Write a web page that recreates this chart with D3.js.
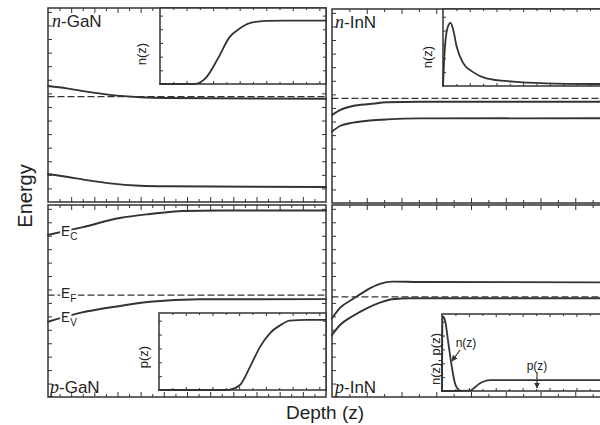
<!DOCTYPE html>
<html><head><meta charset="utf-8">
<script src="https://cdn.jsdelivr.net/npm/d3@7"></script>
<style>
body{margin:0;background:#fff}
svg{display:block}
text{font-family:"Liberation Sans",Arial,Helvetica,sans-serif;fill:#222}
</style>
</head><body>
<svg id="c" width="600" height="425"></svg>
<script>
// ---------- DATA ----------
// Band edges: depth in arbitrary units, energy in arbitrary units (0..10)
const nGaNDepth = [0, 0.8, 1.67, 2.68, 3.97, 5.12, 12];
const nGaN_Ec   = [5.98, 5.86, 5.69, 5.52, 5.40, 5.36, 5.32];
const nGaN_Ev   = [1.44, 1.30, 1.13, 0.96, 0.84, 0.81, 0.77];
const nGaN_Ef   = 5.43;

const nInNDepth = [0, 0.23, 0.6, 1.09, 1.58, 2.53, 8];
const nInN_Ec   = [4.54, 4.79, 5.00, 5.10, 5.19, 5.22, 5.22];
const nInN_Ev   = [3.68, 3.97, 4.14, 4.25, 4.31, 4.36, 4.37];
const nInN_Ef   = 5.39;

const pGaNDepthC = [0, 1.51, 3.1, 4.4, 5.83, 7.42, 12];
const pGaN_Ec    = [8.44, 8.85, 9.32, 9.53, 9.69, 9.71, 9.71];
const pGaNDepthV = [0, 1.38, 3.1, 4.4, 6.56, 12];
const pGaN_Ev    = [3.92, 4.38, 4.74, 4.96, 5.09, 5.10];
const pGaN_Ef    = 5.31;

const pInNDepthC = [0, 0.23, 0.6, 1.0, 1.38, 1.73, 2.53, 8];
const pInN_Ec    = [4.10, 4.64, 5.10, 5.57, 5.89, 6.01, 5.99, 5.97];
const pInNDepthV = [0, 0.23, 0.6, 1.0, 1.38, 1.73, 2.24, 8];
const pInN_Ev    = [3.23, 3.75, 4.22, 4.62, 4.91, 5.09, 5.14, 5.14];
const pInN_Ef    = 5.22;

// Inset carrier profiles (normalized depth 0..1, normalized density 0..1)
const nGaNInsetZ = [0, 0.20, 0.23, 0.28, 0.35, 0.42, 0.48, 0.54, 0.64, 0.75, 1];
const nGaNInsetN = [0, 0, 0.01, 0.09, 0.34, 0.62, 0.73, 0.80, 0.83, 0.835, 0.835];

const nInNInsetZ = [0, 0.006, 0.018, 0.035, 0.045, 0.06, 0.082, 0.12, 0.18, 0.26, 0.42, 0.62, 0.92, 1];
const nInNInsetN = [0, 0.30, 0.65, 0.80, 0.82, 0.74, 0.51, 0.30, 0.18, 0.10, 0.056, 0.035, 0.026, 0.025];

const pGaNInsetZ = [0, 0.40, 0.425, 0.485, 0.545, 0.605, 0.665, 0.725, 0.784, 0.88, 1];
const pGaNInsetP = [0, 0, 0.005, 0.065, 0.30, 0.56, 0.74, 0.84, 0.90, 0.91, 0.91];

const pInNInsetZn = [0, 0.003, 0.008, 0.018, 0.038, 0.058, 0.077, 0.097, 0.11];
const pInNInsetN  = [0, 0.97, 0.965, 0.92, 0.62, 0.32, 0.10, 0.02, 0];
const pInNInsetZp = [0, 0.167, 0.196, 0.226, 0.256, 0.286, 0.35, 1];
const pInNInsetP  = [0, 0.005, 0.048, 0.10, 0.13, 0.14, 0.14, 0.14];

// ---------- DRAWING ----------
const svg = d3.select("#c");
const INK = "#333";
const zip = (xs, ys) => xs.map((v, i) => [v, ys[i]]);

function ticks(g, x, y, xMajor, xMinor, yVals, maj, min) {
  const [x0, x1] = x.range(), [y1, y0] = y.range();
  const add = (axis, tr) => {
    const a = g.append("g").attr("transform", tr).call(axis.tickFormat("").tickSizeOuter(0));
    a.select(".domain").remove();
    a.selectAll("line").attr("stroke", INK).attr("stroke-width", 1);
  };
  add(d3.axisTop(x).tickValues(xMajor).tickSize(maj), `translate(0,${y1})`);
  add(d3.axisTop(x).tickValues(xMinor).tickSize(min), `translate(0,${y1})`);
  add(d3.axisBottom(x).tickValues(xMajor).tickSize(maj), `translate(0,${y0})`);
  add(d3.axisBottom(x).tickValues(xMinor).tickSize(min), `translate(0,${y0})`);
  add(d3.axisRight(y).tickValues(yVals).tickSize(min + 1), `translate(${x0},0)`);
  add(d3.axisLeft(y).tickValues(yVals).tickSize(min + 1), `translate(${x1},0)`);
}

function frame(g, x, y, w) {
  const [x0, x1] = x.range(), [y1, y0] = y.range();
  g.append("rect").attr("x", x0).attr("y", y0).attr("width", x1 - x0).attr("height", y1 - y0)
    .attr("fill", "none").attr("stroke", INK).attr("stroke-width", w);
}

function curve(g, x, y, pts, w, dash) {
  const line = d3.line().x(d => x(d[0])).y(d => y(d[1])).curve(d3.curveMonotoneX);
  g.append("path").attr("d", line(pts)).attr("fill", "none")
    .attr("stroke", INK).attr("stroke-width", w)
    .attr("stroke-dasharray", dash || null).attr("stroke-linecap", "round");
}

function mainPanel(box, xmax, bands, ef) {
  const g = svg.append("g");
  const x = d3.scaleLinear().domain([0, xmax]).range([box[0], box[1]]);
  const y = d3.scaleLinear().domain([0, 10]).range([box[3], box[2]]);
  const xMajor = d3.range(1, xmax, 1), xMinor = d3.range(0.5, xmax, 1);
  const yVals = d3.range(0.7, 10, 0.7);
  ticks(g, x, y, xMajor, xMinor, yVals, 5, 3);
  curve(g, x, y, [[0, ef], [xmax, ef]], 1.3, "6,4");
  bands.forEach(b => curve(g, x, y, b, 1.9));
  frame(g, x, y, 1.5);
  return {g, x, y};
}

function inset(box, series, label, lx, ly) {
  const g = svg.append("g");
  const x = d3.scaleLinear().domain([0, 1]).range([box[0], box[1]]);
  const y = d3.scaleLinear().domain([0, 1]).range([box[3], box[2]]);
  g.append("rect").attr("x", box[0]).attr("y", box[2]).attr("width", box[1] - box[0])
    .attr("height", box[3] - box[2]).attr("fill", "#fff");
  ticks(g, x, y, d3.range(0.16, 1, 0.16), d3.range(0.08, 1, 0.16), d3.range(0.18, 1, 0.18), 3, 2);
  series.forEach(s => curve(g, x, y, s, 1.8));
  frame(g, x, y, 1.5);
  svg.append("text").attr("transform", `translate(${lx},${ly}) rotate(-90)`)
    .attr("text-anchor", "middle").attr("font-size", 13).text(label);
  return {g, x, y};
}

function panelLabel(px, py, it, rest) {
  const t = svg.append("text").attr("x", px).attr("y", py).attr("font-size", 17);
  t.append("tspan").attr("font-family", "'Liberation Serif','DejaVu Serif',serif")
    .attr("font-style", "italic").attr("font-size", 18).text(it);
  t.append("tspan").text(rest);
}

// n-GaN (top left)
mainPanel([48, 326, 8, 202], 12,
  [zip(nGaNDepth, nGaN_Ec), zip(nGaNDepth, nGaN_Ev)], nGaN_Ef);
inset([160, 326, 8, 84], [zip(nGaNInsetZ, nGaNInsetN)], "n(z)", 146, 54);
panelLabel(52, 27, "n", "-GaN");

// n-InN (top right)
mainPanel([332, 610, 9, 203], 8,
  [zip(nInNDepth, nInN_Ec), zip(nInNDepth, nInN_Ev)], nInN_Ef);
inset([443, 610, 9, 86], [zip(nInNInsetZ, nInNInsetN)], "n(z)", 432, 57);
panelLabel(335, 28, "n", "-InN");

// p-GaN (bottom left)
mainPanel([48, 326, 205, 397], 12,
  [zip(pGaNDepthC, pGaN_Ec), zip(pGaNDepthV, pGaN_Ev)], pGaN_Ef);
inset([159, 326, 313, 390], [zip(pGaNInsetZ, pGaNInsetP)], "p(z)", 148, 357);
panelLabel(50, 393, "p", "-GaN");

// p-InN (bottom right)
mainPanel([332, 610, 205, 397], 8,
  [zip(pInNDepthC, pInN_Ec), zip(pInNDepthV, pInN_Ev)], pInN_Ef);
inset([442, 610, 314, 391], [zip(pInNInsetZp, pInNInsetP), zip(pInNInsetZn, pInNInsetN)], "n(z), p(z)", 440, 359);
panelLabel(335, 393, "p", "-InN");

// Band labels in p-GaN
function bandLabel(px, py, sub) {
  const t = svg.append("text").attr("x", px).attr("y", py).attr("font-size", 14)
    .attr("stroke", "#fff").attr("stroke-width", 4).attr("paint-order", "stroke");
  t.append("tspan").text("E");
  t.append("tspan").attr("font-size", 10).attr("dy", 4).text(sub);
}
bandLabel(61, 236, "C");
bandLabel(61, 298, "F");
bandLabel(61, 322, "V");

// Annotations in p-InN inset
const defs = svg.append("defs");
defs.append("marker").attr("id", "ah").attr("viewBox", "0 0 10 10").attr("refX", 9).attr("refY", 5)
  .attr("markerWidth", 5).attr("markerHeight", 5).attr("orient", "auto")
  .append("path").attr("d", "M0,0L10,5L0,10z").attr("fill", INK);
svg.append("text").attr("x", 466).attr("y", 347).attr("text-anchor", "middle").attr("font-size", 12).text("n(z)");
svg.append("line").attr("x1", 460).attr("y1", 350).attr("x2", 452).attr("y2", 361)
  .attr("stroke", INK).attr("stroke-width", 1.2).attr("marker-end", "url(#ah)");
svg.append("text").attr("x", 537).attr("y", 370).attr("text-anchor", "middle").attr("font-size", 12).text("p(z)");
svg.append("line").attr("x1", 537).attr("y1", 372).attr("x2", 537).attr("y2", 388)
  .attr("stroke", INK).attr("stroke-width", 1.2).attr("marker-end", "url(#ah)");

// Axis titles
svg.append("text").attr("transform", "translate(32,196) rotate(-90)").attr("text-anchor", "middle")
  .attr("font-size", 20).text("Energy");
svg.append("text").attr("x", 325).attr("y", 419).attr("text-anchor", "middle")
  .attr("font-size", 19).text("Depth (z)");
</script>
</body></html>
